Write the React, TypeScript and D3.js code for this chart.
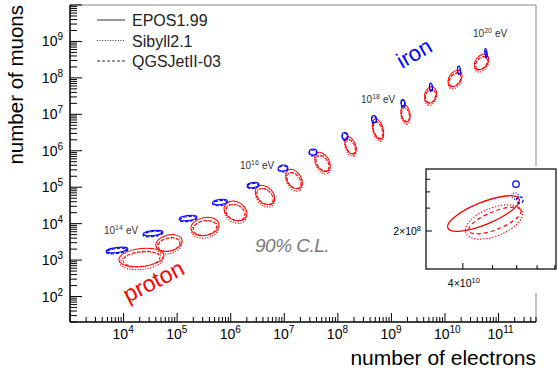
import React from 'react';
import * as d3 from 'd3';

// ---- data (log10 values) ----
// proton 90% contours, EPOS1.99: major axis end points + width ratio
const protonNeA = [3.915, 4.605, 5.259, 5.893, 6.491, 7.069, 7.611, 8.171, 8.693, 9.235, 9.776, 10.28, 10.784];
const protonMuA = [3.002, 3.386, 3.853, 4.512, 5.006, 5.472, 5.939, 6.378, 6.872, 7.256, 7.75, 8.189, 8.628];
const protonNeB = [4.755, 5.091, 5.781, 6.285, 6.789, 7.293, 7.816, 8.301, 8.806, 9.291, 9.683, 10.094, 10.579];
const protonMuB = [3.139, 3.551, 3.99, 4.182, 4.566, 4.978, 5.445, 5.911, 6.323, 6.789, 7.311, 7.777, 8.244];
const protonWidth = [0.4, 0.6, 0.63, 0.75, 0.7, 0.65, 0.62, 0.55, 0.48, 0.52, 0.7, 0.66, 0.67];
// other models: shift in log(N_mu) and relative size
const sibyllMuShift = [-0.09, -0.08, -0.08, -0.08, -0.08, -0.08, -0.08, -0.07, -0.07, -0.07, -0.07, -0.07, -0.07];
const sibyllSize = [0.95, 0.95, 0.95, 0.95, 0.95, 0.95, 0.95, 0.95, 0.95, 0.95, 0.95, 0.95, 0.95];
const qgsMuShift = [-0.04, -0.04, -0.04, -0.04, -0.04, -0.04, -0.03, -0.03, -0.03, -0.03, -0.03, -0.03, -0.03];
const qgsSize = [0.82, 0.82, 0.82, 0.82, 0.82, 0.82, 0.82, 0.82, 0.82, 0.82, 0.82, 0.82, 0.82];

// iron contours: centre and half sizes
const ironNe = [3.877, 4.549, 5.203, 5.8, 6.416, 6.976, 7.536, 8.133, 8.675, 9.216, 9.739, 10.262, 10.766];
const ironMu = [3.277, 3.743, 4.155, 4.594, 5.06, 5.527, 5.966, 6.405, 6.872, 7.311, 7.75, 8.216, 8.683];
const ironNeHalf = [0.205, 0.187, 0.168, 0.14, 0.112, 0.093, 0.075, 0.056, 0.047, 0.037, 0.028, 0.028, 0.019];
const ironMuHalf = [0.069, 0.069, 0.069, 0.069, 0.069, 0.082, 0.082, 0.096, 0.096, 0.096, 0.11, 0.11, 0.123];

const energyIdx = [0, 4, 8, 12];
const energyExp = ['14', '16', '18', '20'];

const xMajor = [4, 5, 6, 7, 8, 9, 10, 11];
const yMajor = [2, 3, 4, 5, 6, 7, 8, 9];

const models = ['EPOS1.99', 'Sibyll2.1', 'QGSJetII-03'];
const modelDash = ['none', '1 1.6', '3 2'];

// inset (10^20 eV), [neA, muA, neB, muB, width]
const insetNames = ['EPOS1.99', 'Sibyll2.1', 'QGSJetII-03'];
const insetNeA = [10.553, 10.612, 10.622];
const insetMuA = [8.324, 8.286, 8.301];
const insetNeB = [10.786, 10.796, 10.792];
const insetMuB = [8.547, 8.455, 8.462];
const insetWidth = [0.29, 0.47, 0.32];
const insetIronNe = [10.776, 10.773, 10.789];
const insetIronMu = [8.662, 8.57, 8.539];
const insetXTicks = [4e10, 5e10, 6e10, 7e10, 8e10];
const insetYTicks = [2e8, 3e8, 4e8, 5e8];

const FONT = '"Liberation Sans", Arial, Helvetica, sans-serif';
const P = (v: number) => Math.pow(10, v);

function ell(sx: any, sy: any, neA: number, muA: number, neB: number, muB: number, ratio: number, size = 1) {
  const ax = sx(P(neA)), ay = sy(P(muA));
  const bx = sx(P(neB)), by = sy(P(muB));
  const cx = (ax + bx) / 2, cy = (ay + by) / 2;
  const a = (Math.hypot(bx - ax, by - ay) / 2) * size;
  const ang = (Math.atan2(by - ay, bx - ax) * 180) / Math.PI;
  return { cx, cy, rx: a, ry: a * ratio, ang };
}

export default function App() {
  const x = d3.scaleLog().domain([1e3, 5e11]).range([70, 536]);
  const y = d3.scaleLog().domain([20, 1e10]).range([322, 5]);
  const xTicks = x.ticks();
  const yTicks = y.ticks();
  const isMajor = (v: number) => Math.abs(Math.log10(v) - Math.round(Math.log10(v))) < 1e-6;

  const ix = d3.scaleLog().domain([3.03e10, 8.07e10]).range([426, 556]);
  const iy = d3.scaleLog().domain([1.02e8, 6e8]).range([269, 169]);

  const protons: any[] = [];
  protonNeA.forEach((_, i) => {
    const variants = [
      { d: 0, s: 1, dash: modelDash[0] },
      { d: sibyllMuShift[i], s: sibyllSize[i], dash: modelDash[1] },
      { d: qgsMuShift[i], s: qgsSize[i], dash: modelDash[2] },
    ];
    variants.forEach((v, k) => {
      const e = ell(x, y, protonNeA[i], protonMuA[i] + v.d, protonNeB[i], protonMuB[i] + v.d, protonWidth[i], v.s);
      protons.push(
        <ellipse key={`p${i}-${k}`} cx={e.cx} cy={e.cy} rx={e.rx} ry={e.ry}
          transform={`rotate(${e.ang} ${e.cx} ${e.cy})`} fill="none" stroke="#ff0000"
          strokeWidth={k === 1 ? 1.3 : 1} strokeDasharray={v.dash} />
      );
    });
  });

  const irons: any[] = [];
  ironNe.forEach((ne, i) => {
    [0, -0.012, -0.03].forEach((d, k) => {
      const cx = x(P(ne)), cy = y(P(ironMu[i] + d));
      const rx = x(P(ne + ironNeHalf[i])) - cx;
      const ry = cy - y(P(ironMu[i] + d + ironMuHalf[i]));
      irons.push(
        <ellipse key={`fe${i}-${k}`} cx={cx} cy={cy} rx={rx * (k === 1 ? 0.85 : 1)} ry={ry}
          transform={`rotate(-7 ${cx} ${cy})`} fill="none" stroke="#0000ff"
          strokeWidth={k === 1 ? 1.2 : 1} strokeDasharray={modelDash[k]} />
      );
    });
  });

  return (
    <svg width={558} height={372} style={{ position: 'absolute', left: 0, top: 0, background: '#fff' }}
      fontFamily={FONT}>
      {/* frame */}
      <line x1={70} y1={5} x2={536} y2={5} stroke="#888" />
      <line x1={536} y1={5} x2={536} y2={322} stroke="#888" />

      {/* contours */}
      {protons}
      {irons}

      {/* energy labels */}
      {energyIdx.map((idx, k) => (
        <text key={`el${k}`} x={x(P(ironNe[idx])) - 13} y={y(P(ironMu[idx])) - 16} fontSize={10} fill="#333">
          10<tspan dy={-4} fontSize={7}>{energyExp[k]}</tspan>
          <tspan dy={4} dx={3} fontSize={10}>eV</tspan>
        </text>
      ))}

      <text x={402} y={69} fontSize={22} fill="#0000ff" transform="rotate(-30 402 69)">iron</text>
      <text x={128} y={303} fontSize={23} fill="#ff0000" transform="rotate(-27 128 303)">proton</text>
      <text x={255} y={252} fontSize={19} fill="#7a7a7a" fontStyle="italic" letterSpacing={-0.5}>90% C.L.</text>

      {/* axes */}
      <line x1={70} y1={5} x2={70} y2={322} stroke="#000" strokeWidth={1.5} />
      <line x1={70} y1={322} x2={536} y2={322} stroke="#000" strokeWidth={1.5} />
      {yTicks.map((t, i) => (
        <line key={`yt${i}`} x1={70} x2={70 + (isMajor(t) ? 12 : 7)} y1={y(t)} y2={y(t)} stroke="#000" />
      ))}
      {xTicks.map((t, i) => (
        <line key={`xt${i}`} x1={x(t)} x2={x(t)} y1={322} y2={322 - (isMajor(t) ? 9 : 5)} stroke="#000" />
      ))}
      {yMajor.map(e => (
        <text key={`yl${e}`} x={63} y={y(P(e)) + 5} fontSize={14} textAnchor="end">
          10<tspan dy={-6} fontSize={10}>{e}</tspan>
        </text>
      ))}
      {xMajor.map(e => (
        <text key={`xl${e}`} x={x(P(e)) - 11} y={339} fontSize={14}>
          10<tspan dy={-6} fontSize={10}>{e}</tspan>
        </text>
      ))}
      <text x={536} y={365} fontSize={21} textAnchor="end">number of electrons</text>
      <text transform="translate(23,5) rotate(-90)" fontSize={20.5} textAnchor="end">number of muons</text>

      {/* legend */}
      {models.map((m, i) => (
        <g key={m}>
          <line x1={97} x2={125} y1={20 + i * 20.5} y2={20 + i * 20.5} stroke="#333" strokeDasharray={modelDash[i]} />
          <text x={132} y={26 + i * 20.5} fontSize={16} fill="#222">{m}</text>
        </g>
      ))}

      {/* inset */}
      <rect x={388} y={166} width={170} height={127} fill="#fff" />
      <clipPath id="insetClip"><rect x={426} y={169} width={130} height={100} /></clipPath>
      <g clipPath="url(#insetClip)">
        {insetNames.map((n, i) => {
          const e = ell(ix, iy, insetNeA[i], insetMuA[i], insetNeB[i], insetMuB[i], insetWidth[i]);
          return (
            <ellipse key={n} cx={e.cx} cy={e.cy} rx={e.rx} ry={e.ry}
              transform={`rotate(${e.ang} ${e.cx} ${e.cy})`} fill="none" stroke="#ff0000"
              strokeWidth={i === 0 ? 1.3 : 1.2} strokeDasharray={i === 1 ? '1.2 1.8' : i === 2 ? '4 3' : 'none'} />
          );
        })}
        {insetIronNe.map((ne, i) => (
          <circle key={`ic${i}`} cx={ix(P(ne))} cy={iy(P(insetIronMu[i]))} r={3.3} fill="none" stroke="#0000ff"
            strokeWidth={1.2} strokeDasharray={modelDash[i]} />
        ))}
      </g>
      <rect x={426} y={169} width={130} height={100} fill="none" stroke="#000" strokeWidth={1.2} />
      {insetYTicks.map((t, i) => (
        <line key={`iyt${i}`} x1={426} x2={426 + (i === 0 ? 6 : 4)} y1={iy(t)} y2={iy(t)} stroke="#000" />
      ))}
      {insetXTicks.map((t, i) => (
        <line key={`ixt${i}`} x1={ix(t)} x2={ix(t)} y1={269} y2={269 - (i === 0 ? 6 : 4)} stroke="#000" />
      ))}
      <text x={421} y={235} fontSize={10.5} textAnchor="end">2×10<tspan dy={-4} fontSize={7.5}>8</tspan></text>
      <text x={ix(4e10) + 1} y={287} fontSize={10.5} textAnchor="middle">4×10<tspan dy={-4} fontSize={7.5}>10</tspan></text>
    </svg>
  );
}
